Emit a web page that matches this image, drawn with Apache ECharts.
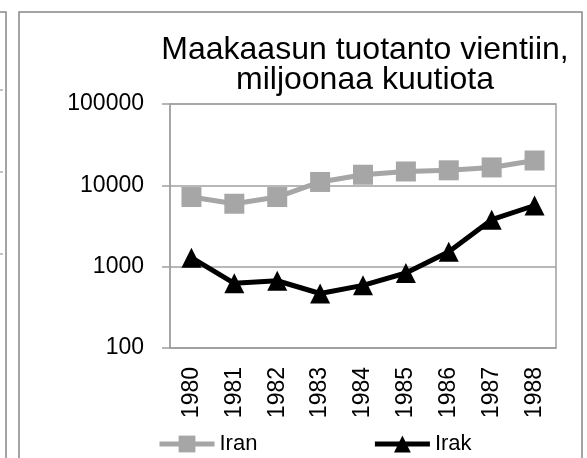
<!DOCTYPE html>
<html>
<head>
<meta charset="utf-8">
<script src="https://cdn.jsdelivr.net/npm/echarts@6/dist/echarts.min.js"></script>
<style>
  html, body { margin: 0; padding: 0; background: #fff; }
  #main { width: 587px; height: 458px; }
</style>
</head>
<body>
<div id="main"></div>
<script>
// vuodet ja tuotanto (milj. kuutiota), luettu kuvasta
var years = ['1980', '1981', '1982', '1983', '1984', '1985', '1986', '1987', '1988'];
var iran = [7180, 5940, 7180, 11000, 13500, 14800, 15300, 16600, 20200];
var irak = [1290, 624, 671, 468, 589, 836, 1530, 3780, 5650];
var yTicks = [100, 1000, 10000, 100000];

var font = 'Liberation Sans, Arial, sans-serif';
var frame = '#868686';

var myChart = echarts.init(document.getElementById('main'));

var option = {
    animation: false,
    title: {
        text: 'Maakaasun tuotanto vientiin,\nmiljoonaa kuutiota',
        left: 360,
        top: 30,
        textAlign: 'center',
        textStyle: {
            fontFamily: font,
            fontSize: 32,
            fontWeight: 'normal',
            color: '#000',
            lineHeight: 30
        }
    },
    legend: {
        left: 152,
        top: 428,
        itemWidth: 55,
        itemHeight: 21,
        itemGap: 115,
        textStyle: { fontFamily: font, fontSize: 22, color: '#000' },
        data: [
            { name: 'Iran', lineStyle: { width: 5 } },
            { name: 'Irak', lineStyle: { width: 5 } }
        ]
    },
    grid: {
        left: 170,
        right: 31,
        top: 104,
        bottom: 110,
        show: true,
        borderColor: '#a0a0a0',
        borderWidth: 1.5
    },
    xAxis: {
        type: 'category',
        data: years,
        boundaryGap: true,
        axisLine: { lineStyle: { color: '#a0a0a0', width: 1.5 } },
        axisTick: { length: 7, lineStyle: { color: '#a0a0a0', width: 1.5 } },
        axisLabel: {
            rotate: 90,
            margin: 19,
            fontFamily: font,
            fontSize: 23,
            color: '#000'
        }
    },
    yAxis: {
        type: 'log',
        logBase: 10,
        min: yTicks[0],
        max: yTicks[yTicks.length - 1],
        axisLine: { show: true, lineStyle: { color: '#a0a0a0', width: 1.5 } },
        axisTick: { show: true, length: 8, lineStyle: { color: '#a0a0a0', width: 1.5 } },
        splitLine: { lineStyle: { color: '#a0a0a0', width: 1.5 } },
        axisLabel: {
            margin: 26,
            fontFamily: font,
            fontSize: 23,
            color: '#000',
            formatter: function (v) { return String(Math.round(v)); }
        }
    },
    series: [
        {
            name: 'Iran',
            type: 'line',
            data: iran,
            symbol: 'rect',
            symbolSize: 20,
            lineStyle: { color: '#a6a6a6', width: 5 },
            itemStyle: { color: '#a6a6a6' }
        },
        {
            name: 'Irak',
            type: 'line',
            data: irak,
            symbol: 'triangle',
            symbolSize: 20,
            lineStyle: { color: '#000', width: 5 },
            itemStyle: { color: '#000' }
        }
    ],
    graphic: [
        // kaavion kehys
        { type: 'rect', shape: { x: 19, y: 12, width: 563, height: 470 },
          style: { fill: 'none', stroke: frame, lineWidth: 1.5 }, silent: true },
        // viereisen kaavion reuna
        { type: 'polyline', shape: { points: [[0, 12], [6, 12], [6, 470]] },
          style: { fill: 'none', stroke: frame, lineWidth: 1.5 }, silent: true },
        { type: 'line', shape: { x1: 0, y1: 90, x2: 3, y2: 90 },
          style: { stroke: frame, lineWidth: 1 }, silent: true },
        { type: 'line', shape: { x1: 0, y1: 172, x2: 3, y2: 172 },
          style: { stroke: frame, lineWidth: 1 }, silent: true },
        { type: 'line', shape: { x1: 0, y1: 254, x2: 3, y2: 254 },
          style: { stroke: frame, lineWidth: 1 }, silent: true }
    ]
};

myChart.setOption(option);
window.addEventListener('resize', function () {
    myChart.resize();
});
</script>
</body>
</html>
